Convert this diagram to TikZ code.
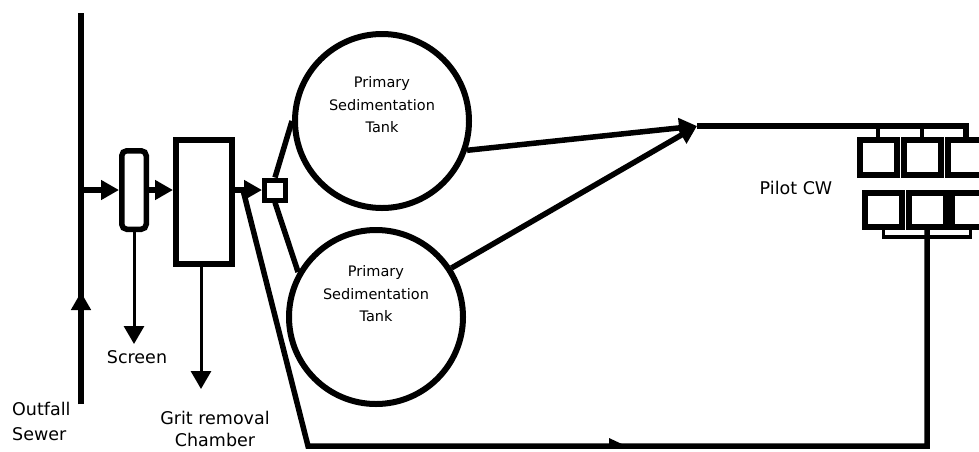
\documentclass[tikz,border=0pt]{standalone}
\usepackage{fontspec}
\setmainfont{DejaVu Sans}
\usetikzlibrary{arrows.meta}
\begin{document}
\begin{tikzpicture}[x=1pt,y=-1pt,
 flow/.style={line width=5.5pt},
 arr/.style={line width=5.5pt,-{Triangle[length=18pt,width=19pt]}},
 droparr/.style={line width=3pt,-{Triangle[length=18pt,width=20pt]}},
 tank/.style={circle,draw,line width=6pt,minimum size=174pt,inner sep=0pt},
 unitbox/.style={rectangle,draw,line width=6pt,inner sep=0pt},
 cwbox/.style={rectangle,draw,line width=6pt,minimum width=37pt,inner sep=0pt},
 lbl/.style={font=\fontsize{17.5}{26}\selectfont,inner sep=0pt},
 tanklbl/.style={font=\fontsize{14.5}{22.5}\selectfont,align=center,inner sep=0pt},
 thin/.style={line width=3.5pt},
]
\clip (0,0) rectangle (979,451);
\fill[white] (0,0) rectangle (979,451);

% outfall sewer
\coordinate (sewertop) at (81,13);
\coordinate (sewerbot) at (81,404);
\coordinate (sewermid) at (81,292);
\coordinate (tap) at (81,190);
\draw[flow] (sewerbot) -- (sewertop);
\draw[arr] (sewerbot) -- (sewermid);

% screen and grit chamber
\node[unitbox,line width=5.5pt,rounded corners=5pt,minimum width=24.5pt,minimum height=78.5pt] (screen) at (134,190) {};
\node[unitbox,minimum width=56pt,minimum height=124pt] (grit) at (204,202) {};
\node[unitbox,line width=5pt,minimum width=21pt,minimum height=20pt] (sq) at (275,190) {};

\draw[arr] (tap) -- (screen.west);
\draw[arr] (screen.east) -- (screen.east -| grit.west);
\draw[arr] (grit.east |- sq) -- (sq.west);

\coordinate (screenout) at (134,344);
\coordinate (gritout) at (201,389);
\draw[droparr] (screen.south) -- (screenout);
\draw[droparr] (grit.south -| gritout) -- (gritout);

% tanks
\node[tank] (pst1) at (382,121) {};
\node[tank] (pst2) at (376,317) {};
\node[tanklbl] (t1lbl) at (382,105) {Primary\\Sedimentation\\Tank};
\node[tanklbl] (t2lbl) at (376,294) {Primary\\Sedimentation\\Tank};

\draw[flow] (sq.north) -- (pst1.west);
\draw[flow] (sq.south) -- (pst2.150);

\coordinate (J) at (697,126);
\draw[arr] (pst1.-19) -- (J);
\draw[arr] (pst2.33) -- (J);

% pilot constructed wetland cells
\node[cwbox,minimum height=35pt] (cwa) at (878,157.5) {};
\node[cwbox,minimum height=35pt] (cwb) at (922,157.5) {};
\node[cwbox,minimum height=35pt] (cwc) at (966,157.5) {};
\node[cwbox,minimum height=34pt] (cwd) at (883.5,210) {};
\node[cwbox,minimum height=34pt] (cwe) at (927,210) {};
\node[cwbox,minimum height=34pt] (cwf) at (970.5,210) {};

\draw[flow] (J) -- (J -| cwc.north) -- (cwc.north);
\draw[thin] (cwa.north) -- (cwa.north |- J);
\draw[thin] (cwb.north) -- (cwb.north |- J);
\draw[thin] (cwd.south) -- ++(0,7) -| (cwf.south);

% bypass / return line
\coordinate (split) at (243,190);
\coordinate (bl) at (308,446);
\coordinate (br) at (cwe.south |- bl);
\draw[flow,line join=miter] (split) -- (bl) -- (br) -- (cwe.south);
\fill (609,438) -- (624,445) -- (609,446) -- cycle;

% labels
\node[lbl] (screenlbl) at (137,357) {Screen};
\node[lbl,anchor=west] (outfall) at (12,409) {Outfall};
\node[lbl,anchor=west] (sewer) at (12,434) {Sewer};
\node[lbl] (grit1) at (215,418) {Grit removal};
\node[lbl] (grit2) at (215,440) {Chamber};
\node[lbl] (pilot) at (796,188) {Pilot CW};
\end{tikzpicture}
\end{document}
